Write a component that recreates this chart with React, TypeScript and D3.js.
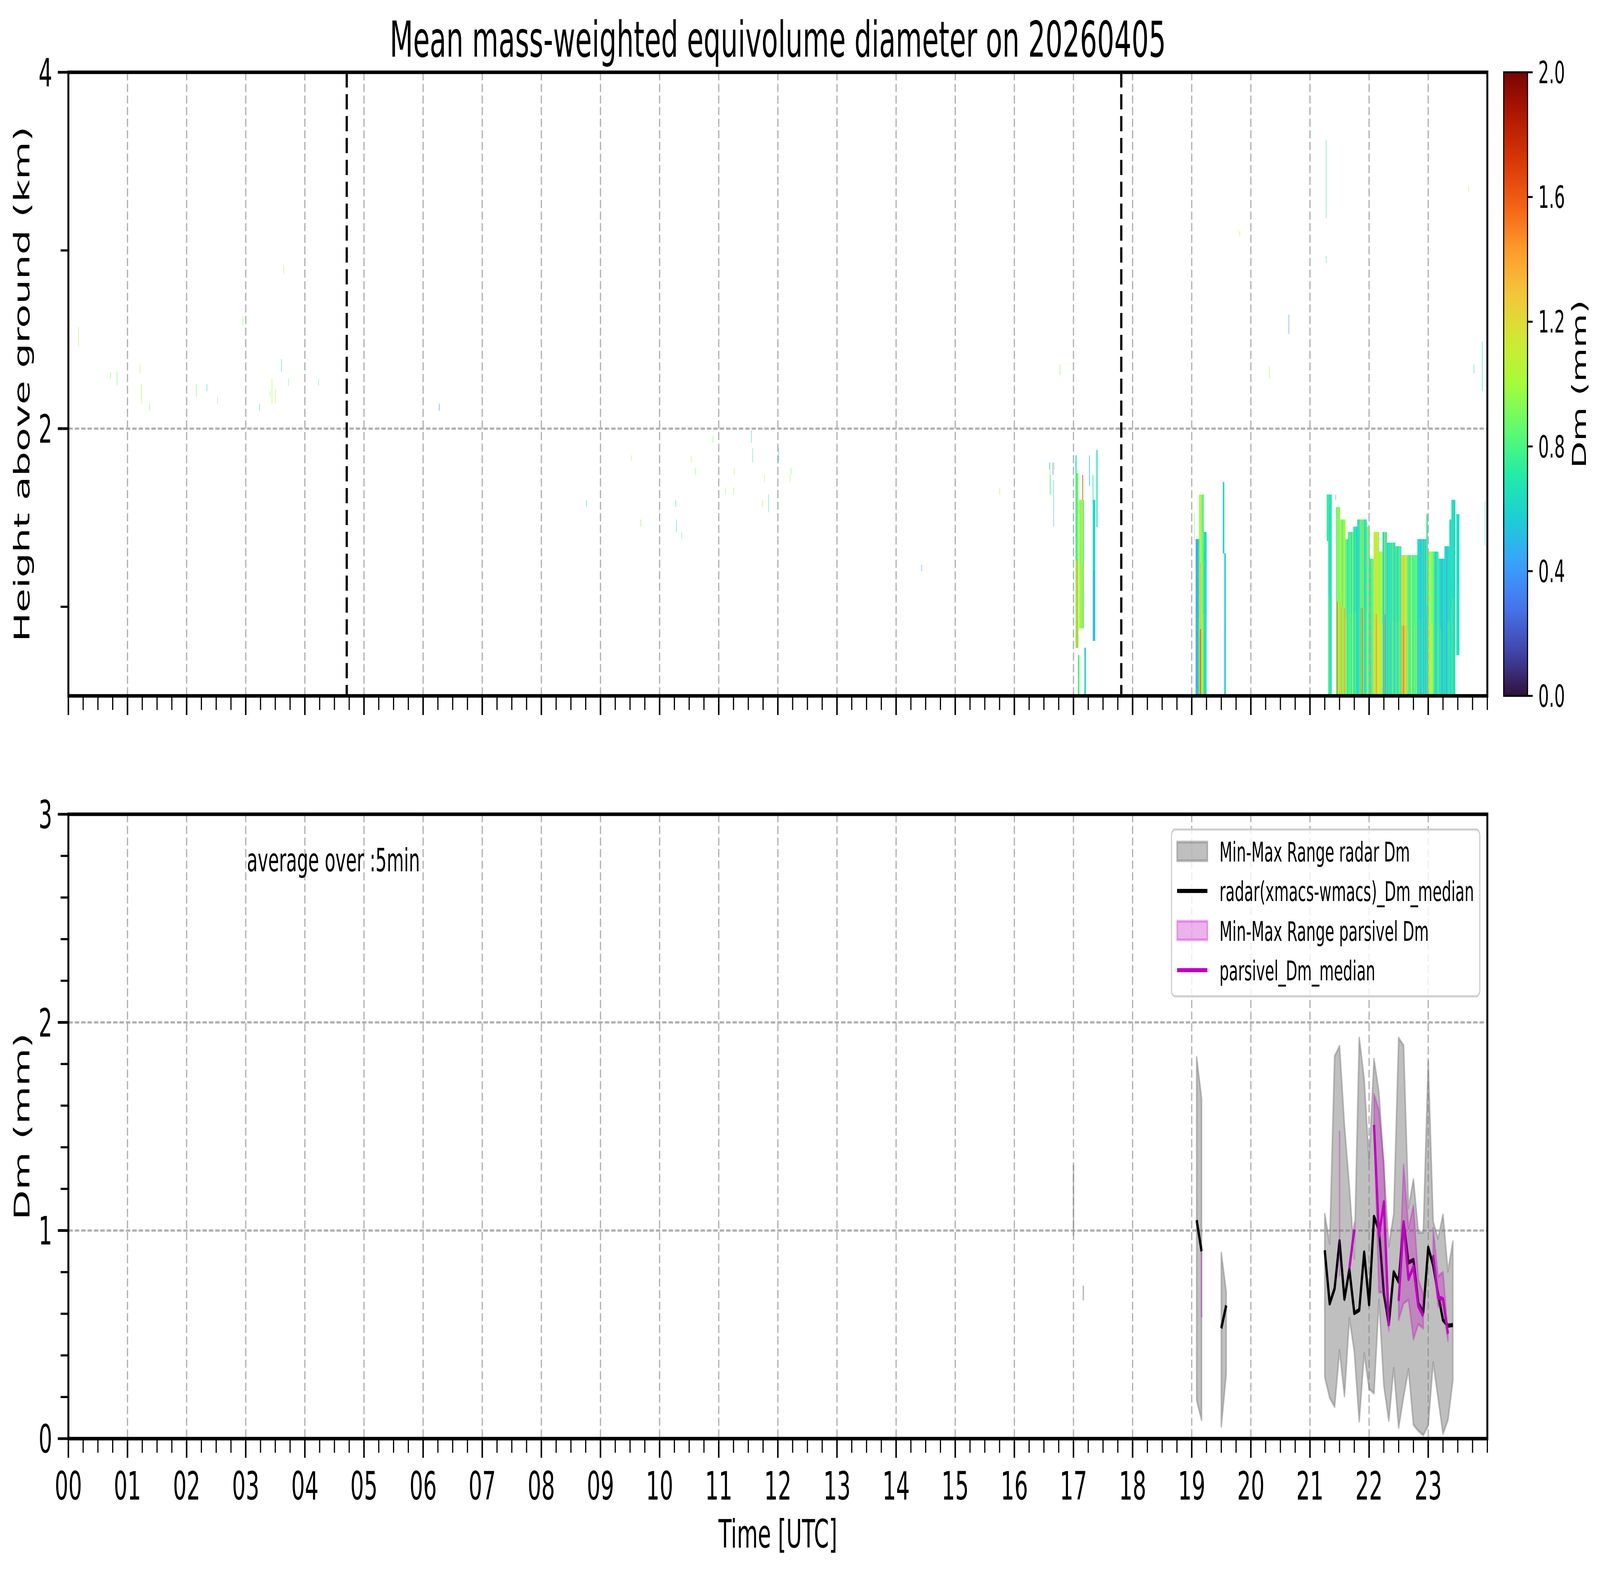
import React from "react";
import * as d3 from "d3";

// ---------------- data ----------------
const hourLabels = ["00","01","02","03","04","05","06","07","08","09","10","11","12","13","14","15","16","17","18","19","20","21","22","23"];
const heightTicks = [2, 4];
const heightMinor = [1, 3];
const dmTicks = [0, 1, 2, 3];
const cbTicks = [0.0, 0.4, 0.8, 1.2, 1.6, 2.0];
const eventLines = ["04:42:30", "17:48:30"];

// matplotlib "turbo" key colours
const turboStops = ["#30123b","#4145ab","#4675ed","#39a2fc","#1bcfd4","#24eca6","#61fc6c","#a4fc3b","#d1e834","#f3c63a","#fe9b2d","#f36315","#d93806","#b11901","#7a0403"];

// radar Dm mesh: [start, bottom km, top km, layer strings bottom->top]
// one char = one 30 s column, value = index in valueKey / 10 (mm), "." = empty
const valueKey = "0123456789ABCDEFGHIJK";
const meshBlocks: [string, number, number, ...string[]][] = [
  ["17:02:00", 0.77, 1.75, "A8BF9A", "86979A"],
  ["17:02:00", 1.75, 1.85, "67"],
  ["17:04:30", 0.50, 0.73, "879"],
  ["17:05:30", 0.88, 1.60, "ABCA9B8CA7", "9AB8CA9AB6"],
  ["17:09:00", 1.60, 1.74, "H"],
  ["17:11:00", 0.50, 0.77, "675"],
  ["17:16:00", 1.68, 1.85, "6"],
  ["17:19:30", 0.81, 1.60, "66546", "67656"],
  ["17:19:30", 1.60, 1.74, "7"],
  ["17:23:00", 1.45, 1.88, "7.6."],
  ["19:04:00", 0.50, 1.38, "4546567", "4545566"],
  ["19:07:30", 0.50, 1.63, "BEHFCA9", "ACEDBA8", "9ACB9A8"],
  ["19:11:00", 0.50, 1.42, "A9767586", "98767576"],
  ["19:11:00", 1.42, 1.63, "87"],
  ["19:31:30", 1.30, 1.70, "657"],
  ["19:33:00", 0.50, 1.30, "656", "756"],
  ["21:17:00", 1.37, 1.63, "868"],
  ["21:18:30", 0.50, 1.63, "7868767", "7767767"],
  ["21:26:30", 0.50, 1.56, "7AH9CA9E", "79B8A98B"],
  ["21:30:30", 0.50, 1.49, "BAF9B8AEBFC", "A9C8A79CA9B"],
  ["21:36:00", 0.50, 1.38, "98A76", "88976"],
  ["21:38:30", 0.50, 1.42, "8977A8679B8", "8877A8668A8"],
  ["21:44:00", 0.50, 1.45, "76869757", "76768657"],
  ["21:48:00", 0.50, 1.49, "6758697F97G7A857686", "6758696A96B79856786"],
  ["21:57:30", 0.50, 1.45, "9A8B76", "899A76"],
  ["22:00:30", 0.50, 1.27, "6786C97A", "6786A979"],
  ["22:04:30", 0.50, 1.42, "CBDAECFBACB", "BACADBCAAB9"],
  ["22:10:00", 0.50, 1.31, "BACBDAB", "A9BACA9"],
  ["22:13:30", 0.50, 1.42, "86758F478", "8675AC578"],
  ["22:18:00", 0.50, 1.36, "67586947867A69576", "67586857867969576"],
  ["22:26:30", 0.50, 1.34, "7A6857968A76", "796857868976"],
  ["22:32:30", 0.50, 1.29, "CDFBEHCBDAEC8A79786A9B87969A789C6", "BCDADEBACACB8979786A9A87969978996"],
  ["22:49:00", 0.50, 1.38, "676586475867568476", "676576475767568476"],
  ["22:58:00", 0.50, 1.52, "685", "796"],
  ["22:59:30", 0.50, 1.31, "7A9BACBAB9A8786757686A", "799AAB9A99987866576869"],
  ["23:10:30", 0.50, 1.27, "676857465767", "676756465767"],
  ["23:16:30", 0.50, 1.34, "5676475868", "5676465767"],
  ["23:21:30", 0.50, 1.49, "6758", "6757"],
  ["23:23:30", 0.50, 1.60, "76867568", "76767567"],
  ["23:28:30", 0.73, 1.52, "667766", "667666"],
];

// isolated thin radar cells: [hour, bottom km, top km, Dm]
const sparseCells: [number, number, number, number][] = [
  [0.17, 2.46, 2.57, 1.0], [0.71, 2.28, 2.32, 0.9], [0.82, 2.24, 2.32, 0.85],
  [1.21, 2.31, 2.36, 1.0], [1.23, 2.14, 2.25, 1.0], [1.37, 2.10, 2.14, 0.9],
  [2.16, 2.18, 2.25, 0.85], [2.34, 2.21, 2.25, 0.6], [2.52, 2.14, 2.18, 0.9],
  [2.95, 2.58, 2.63, 0.9], [3.23, 2.10, 2.14, 0.6], [3.41, 2.18, 2.21, 0.9],
  [3.44, 2.14, 2.28, 1.0], [3.50, 2.14, 2.22, 1.0], [3.60, 2.32, 2.39, 0.6],
  [3.64, 2.87, 2.92, 1.0], [3.72, 2.24, 2.28, 0.9], [4.23, 2.24, 2.28, 0.8],
  [6.27, 2.10, 2.14, 0.3], [8.76, 1.56, 1.60, 0.65], [9.52, 1.82, 1.85, 1.0],
  [9.68, 1.45, 1.49, 0.85], [9.99, 1.53, 1.59, 0.9], [10.27, 1.56, 1.60, 0.65],
  [10.28, 1.42, 1.49, 0.7], [10.37, 1.38, 1.42, 0.8], [10.53, 1.81, 1.85, 1.0],
  [10.60, 1.74, 1.78, 0.9], [10.90, 1.92, 1.96, 0.9], [11.11, 1.63, 1.67, 1.0],
  [11.25, 1.63, 1.67, 1.0], [11.26, 1.74, 1.78, 1.05], [11.55, 1.92, 1.99, 0.65],
  [11.57, 1.81, 1.89, 0.75], [11.74, 1.56, 1.60, 1.0], [11.77, 1.70, 1.74, 1.0],
  [11.84, 1.53, 1.63, 0.7], [12.01, 1.81, 1.89, 0.55], [12.20, 1.70, 1.74, 1.0],
  [12.22, 1.74, 1.78, 0.85], [14.43, 1.20, 1.235, 0.4], [15.75, 1.63, 1.67, 1.0],
  [16.59, 1.77, 1.81, 0.4], [16.60, 1.63, 1.81, 0.9], [16.61, 1.63, 1.74, 0.8],
  [16.65, 1.74, 1.81, 0.2], [16.66, 1.45, 1.71, 0.5], [16.67, 1.77, 1.81, 0.9],
  [16.77, 2.30, 2.36, 0.9], [19.04, 1.37, 1.52, 0.9], [19.81, 3.08, 3.11, 1.0],
  [20.31, 2.28, 2.35, 1.0], [20.64, 2.53, 2.64, 0.35], [21.27, 3.18, 3.62, 0.7],
  [21.27, 2.93, 2.97, 0.7], [21.433, 1.60, 1.63, 0.4], [23.68, 3.33, 3.36, 1.0],
  [23.77, 2.31, 2.36, 0.6], [23.91, 2.21, 2.49, 0.6], [23.96, 1.345, 1.595, 0.5],
];

// 5 min averages, lower panel
const radarTimes = ["17:00","17:10","19:05","19:10","19:30","19:35",
  "21:15","21:20","21:25","21:30","21:35","21:40","21:45","21:50","21:55","22:00","22:05","22:10","22:15","22:20",
  "22:25","22:30","22:35","22:40","22:45","22:50","22:55","23:00","23:05","23:10","23:15","23:20","23:25"];
const radarMedian = [null, null, 1.05, 0.90, 0.53, 0.64,
  0.905, 0.649, 0.721, 0.949, 0.671, 0.813, 0.603, 0.618, 0.895, 0.645, 1.066, 1.004, 0.695, 0.550,
  0.800, 0.754, 1.039, 0.846, 0.859, 0.649, 0.609, 0.918, 0.833, 0.695, 0.570, 0.543, 0.546];
const radarMax = [1.31, 0.73, 1.832, 1.633, 0.892, 0.705,
  1.079, 0.938, 1.837, 1.886, 1.504, 1.208, 0.866, 1.925, 1.728, 1.326, 1.824, 1.662, 1.30, 0.925,
  1.079, 1.925, 1.889, 1.109, 1.245, 0.991, 0.991, 1.813, 1.043, 0.961, 1.076, 0.803, 0.947];
const radarMin = [0.98, 0.67, 0.185, 0.090, 0.059, 0.311,
  0.297, 0.197, 0.153, 0.425, 0.205, 0.579, 0.418, 0.083, 0.409, 0.24, 0.218, 0.666, 0.254, 0.087,
  0.339, 0.053, 0.201, 0.333, 0.067, 0.037, 0.017, 0.063, 0.366, 0.195, 0.024, 0.089, 0.280];

const parsTimes = ["19:10","21:30","21:40","21:45","22:05","22:10","22:15","22:20","22:30","22:35","22:40","22:45","22:50","22:55","23:05","23:10","23:15","23:20"];
const parsMedian = [null, null, 0.820, 1.004, 1.508, 0.974, 1.136, 0.543, 0.662, 1.037, 0.767, 0.826, 0.636, 0.589, 0.882, 0.679, 0.671, 0.504];
const parsMax = [0.898, 1.474, 0.835, 1.037, 1.655, 1.576, 1.326, 0.56, 0.67, 1.316, 1.011, 1.120, 0.763, 0.695, 1.011, 0.780, 0.800, 0.51];
const parsMin = [0.588, 0.787, 0.800, 0.990, 1.48, 0.704, 0.701, 0.52, 0.570, 0.65, 0.668, 0.478, 0.55, 0.530, 0.87, 0.636, 0.64, 0.47];

const legendLabels = ["Min-Max Range radar Dm", "radar(xmacs-wmacs)_Dm_median", "Min-Max Range parsivel Dm", "parsivel_Dm_median"];

// ---------------- helpers ----------------
const toHours = (s: string) => {
  const p = s.split(":").map(Number);
  return p[0] + (p[1] || 0) / 60 + (p[2] || 0) / 3600;
};

type Pt = { t: number; med: number | null; lo: number; hi: number };

function buildSegments(times: string[], med: (number | null)[], lo: number[], hi: number[]) {
  const pts: Pt[] = times.map((s, i) => ({ t: toHours(s), med: med[i], lo: lo[i], hi: hi[i] }));
  const segs: Pt[][] = [];
  pts.forEach((p, i) => {
    if (i === 0 || p.t - pts[i - 1].t > 5.5 / 60) segs.push([p]);
    else segs[segs.length - 1].push(p);
  });
  return segs;
}

const FONT = "DejaVu Sans";
const W = 7442, H = 4031;
const L = 318, R = 6918;
const T1 = 185, B1 = 1781;
const T2 = 2084, B2 = 3682;
const CBL = 6994, CBR = 7105;

export default function App() {
  const x = d3.scaleLinear().domain([0, 24]).range([L, R]);
  const yH = d3.scaleLinear().domain([0.5, 4]).range([B1, T1]);
  const yD = d3.scaleLinear().domain([0, 3]).range([B2, T2]);
  const yCb = d3.scaleLinear().domain([0, 2]).range([B1, T1]);
  const turbo = d3.piecewise(d3.interpolateRgb, turboStops);
  const color = (v: number) => turbo(Math.max(0, Math.min(1, v / 2)));

  const colW = x(1 / 120) - x(0);

  // mesh rectangles
  const meshRects: JSX.Element[] = [];
  meshBlocks.forEach(([start, bot, top, ...layers], bi) => {
    const t0 = toHours(start);
    const dh = (top - bot) / layers.length;
    layers.forEach((row, li) => {
      const yTop = yH(bot + (li + 1) * dh);
      const yBot = yH(bot + li * dh);
      row.split("").forEach((ch, ci) => {
        if (ch === ".") return;
        const v = valueKey.indexOf(ch) / 10;
        meshRects.push(
          <rect key={`m${bi}-${li}-${ci}`} x={x(t0 + ci / 120)} y={yTop}
            width={colW + 0.6} height={yBot - yTop + 0.6} fill={color(v)} />
        );
      });
    });
  });

  const sparseRects = sparseCells.map(([h, b, t, v], i) => (
    <rect key={`s${i}`} x={x(h)} y={yH(t)} width={1.8} height={yH(b) - yH(t)} fill={color(v)} />
  ));

  const hourPos = hourLabels.map((_, i) => i);
  const minorX = d3.range(0, 24.001, 0.25).filter((h) => Math.abs(h - Math.round(h)) > 0.01 || Math.round(h) === 24);
  const minorDm = d3.range(0, 3.001, 0.2).filter((v) => Math.abs(v - Math.round(v)) > 0.01);

  const area = d3.area<Pt>().x((d) => x(d.t)).y0((d) => yD(d.lo)).y1((d) => yD(d.hi));
  const line = d3.line<Pt>().defined((d) => d.med !== null).x((d) => x(d.t)).y((d) => yD(d.med as number));
  const radarSegs = buildSegments(radarTimes, radarMedian, radarMin, radarMax);
  const parsSegs = buildSegments(parsTimes, parsMedian, parsMin, parsMax);

  const gridStyle = { stroke: "#b0b0b0", strokeWidth: 5.6, strokeDasharray: "20.7 9" };

  const xTicks = (base: number) => (
    <g stroke="#000">
      {hourPos.map((h) => <line key={`M${h}`} x1={x(h)} x2={x(h)} y1={base} y2={base + 49} strokeWidth={7} />)}
      {minorX.map((h) => <line key={`m${h}`} x1={x(h)} x2={x(h)} y1={base} y2={base + 36} strokeWidth={5.5} />)}
    </g>
  );

  const stops = d3.range(0, 1.0001, 0.02);
  const legendY = (i: number) => 2179 + i * 101.3;

  return (
    <svg viewBox={`0 0 ${W} ${H}`} preserveAspectRatio="none"
      style={{ position: "fixed", left: 0, top: 0, width: "100vw", height: "100vh", background: "#fff", display: "block" }}
      fontFamily={FONT}>
      <defs>
        <clipPath id="clipTop"><rect x={L} y={T1} width={R - L} height={B1 - T1} /></clipPath>
        <clipPath id="clipBot"><rect x={L} y={T2} width={R - L} height={B2 - T2} /></clipPath>
        <linearGradient id="cbGrad" x1="0" y1="1" x2="0" y2="0">
          {stops.map((s) => <stop key={s} offset={s} stopColor={turbo(s)} />)}
        </linearGradient>
      </defs>
      <rect x={0} y={0} width={W} height={H} fill="#fff" />

      {/* title */}
      <text x={(L + R) / 2} y={145} fontSize={126} textAnchor="middle">Mean mass-weighted equivolume diameter on 20260405</text>

      {/* ---------- upper panel ---------- */}
      <g clipPath="url(#clipTop)">
        {meshRects}
        {sparseRects}
      </g>
      <g {...gridStyle}>
        {hourPos.map((h) => <line key={h} x1={x(h)} x2={x(h)} y1={T1} y2={B1} />)}
        {heightTicks.map((v) => <line key={v} x1={L} x2={R} y1={yH(v)} y2={yH(v)} />)}
      </g>
      {eventLines.map((s) => (
        <line key={s} x1={x(toHours(s))} x2={x(toHours(s))} y1={T1} y2={B1} stroke="#000" strokeWidth={10.5} strokeDasharray="39 17" />
      ))}
      <rect x={L} y={T1} width={R - L} height={B1 - T1} fill="none" stroke="#000" strokeWidth={9} />
      {xTicks(B1)}
      <g stroke="#000">
        {heightTicks.map((v) => <line key={v} x1={L} x2={L - 49} y1={yH(v)} y2={yH(v)} strokeWidth={7} />)}
        {heightMinor.map((v) => <line key={v} x1={L} x2={L - 36} y1={yH(v)} y2={yH(v)} strokeWidth={5.5} />)}
      </g>
      {heightTicks.map((v) => (
        <text key={v} x={243} y={yH(v) + 36} fontSize={100} textAnchor="end">{v}</text>
      ))}
      <text transform={`translate(136,${(T1 + B1) / 2}) rotate(-90)`} fontSize={100} textAnchor="middle">Height above ground (km)</text>

      {/* colorbar */}
      <rect x={CBL} y={T1} width={CBR - CBL} height={B1 - T1} fill="url(#cbGrad)" stroke="#000" strokeWidth={5} />
      {cbTicks.map((v) => (
        <g key={v}>
          <line x1={CBR} x2={CBR + 24} y1={yCb(v)} y2={yCb(v)} stroke="#000" strokeWidth={5} />
          <text x={7155} y={yCb(v) + 28} fontSize={78}>{v.toFixed(1)}</text>
        </g>
      ))}
      <text transform={`translate(7376,${(T1 + B1) / 2}) rotate(-90)`} fontSize={90} textAnchor="middle">Dm (mm)</text>

      {/* ---------- lower panel ---------- */}
      <g {...gridStyle}>
        {hourPos.map((h) => <line key={h} x1={x(h)} x2={x(h)} y1={T2} y2={B2} />)}
        {dmTicks.map((v) => <line key={v} x1={L} x2={R} y1={yD(v)} y2={yD(v)} />)}
      </g>
      <g clipPath="url(#clipBot)">
        {radarSegs.map((s, i) => (
          <path key={`ra${i}`} d={area(s) || ""} fill="rgba(128,128,128,0.5)" stroke="rgba(128,128,128,0.5)" strokeWidth={7} strokeLinejoin="round" />
        ))}
        {radarSegs.map((s, i) => (
          <path key={`rl${i}`} d={line(s) || ""} fill="none" stroke="#000" strokeWidth={10.5} strokeLinejoin="round" />
        ))}
        {parsSegs.map((s, i) => (
          <path key={`pa${i}`} d={area(s) || ""} fill="rgba(191,0,191,0.3)" stroke="rgba(191,0,191,0.3)" strokeWidth={7} strokeLinejoin="round" />
        ))}
        {parsSegs.map((s, i) => (
          <path key={`pl${i}`} d={line(s) || ""} fill="none" stroke="#bf00bf" strokeWidth={10.5} strokeLinejoin="round" />
        ))}
      </g>
      <text x={x(3.02)} y={yD(2.725)} fontSize={82}>average over :5min</text>

      {/* legend */}
      <rect x={5449} y={2123} width={1434} height={427} rx={16} fill="rgba(255,255,255,0.8)" stroke="#cccccc" strokeWidth={5} />
      <rect x={5475} y={legendY(0) - 24} width={141} height={48} fill="rgba(128,128,128,0.5)" stroke="rgba(128,128,128,0.5)" strokeWidth={7} />
      <line x1={5475} x2={5616} y1={legendY(1)} y2={legendY(1)} stroke="#000" strokeWidth={10.5} />
      <rect x={5475} y={legendY(2) - 24} width={141} height={48} fill="rgba(191,0,191,0.3)" stroke="rgba(191,0,191,0.3)" strokeWidth={7} />
      <line x1={5475} x2={5616} y1={legendY(3)} y2={legendY(3)} stroke="#bf00bf" strokeWidth={10.5} />
      {legendLabels.map((s, i) => (
        <text key={s} x={5672} y={legendY(i) + 26} fontSize={69.5}>{s}</text>
      ))}

      <rect x={L} y={T2} width={R - L} height={B2 - T2} fill="none" stroke="#000" strokeWidth={9} />
      {xTicks(B2)}
      <g stroke="#000">
        {dmTicks.map((v) => <line key={v} x1={L} x2={L - 49} y1={yD(v)} y2={yD(v)} strokeWidth={7} />)}
        {minorDm.map((v) => <line key={v} x1={L} x2={L - 36} y1={yD(v)} y2={yD(v)} strokeWidth={5.5} />)}
      </g>
      {dmTicks.map((v) => (
        <text key={v} x={243} y={yD(v) + 36} fontSize={100} textAnchor="end">{v}</text>
      ))}
      {hourLabels.map((s, i) => (
        <text key={s} x={x(i)} y={3838} fontSize={100} textAnchor="middle">{s}</text>
      ))}
      <text transform={`translate(136,${(T2 + B2) / 2}) rotate(-90)`} fontSize={100} textAnchor="middle">Dm (mm)</text>
      <text x={(L + R) / 2} y={3961} fontSize={100} textAnchor="middle">Time [UTC]</text>
    </svg>
  );
}
